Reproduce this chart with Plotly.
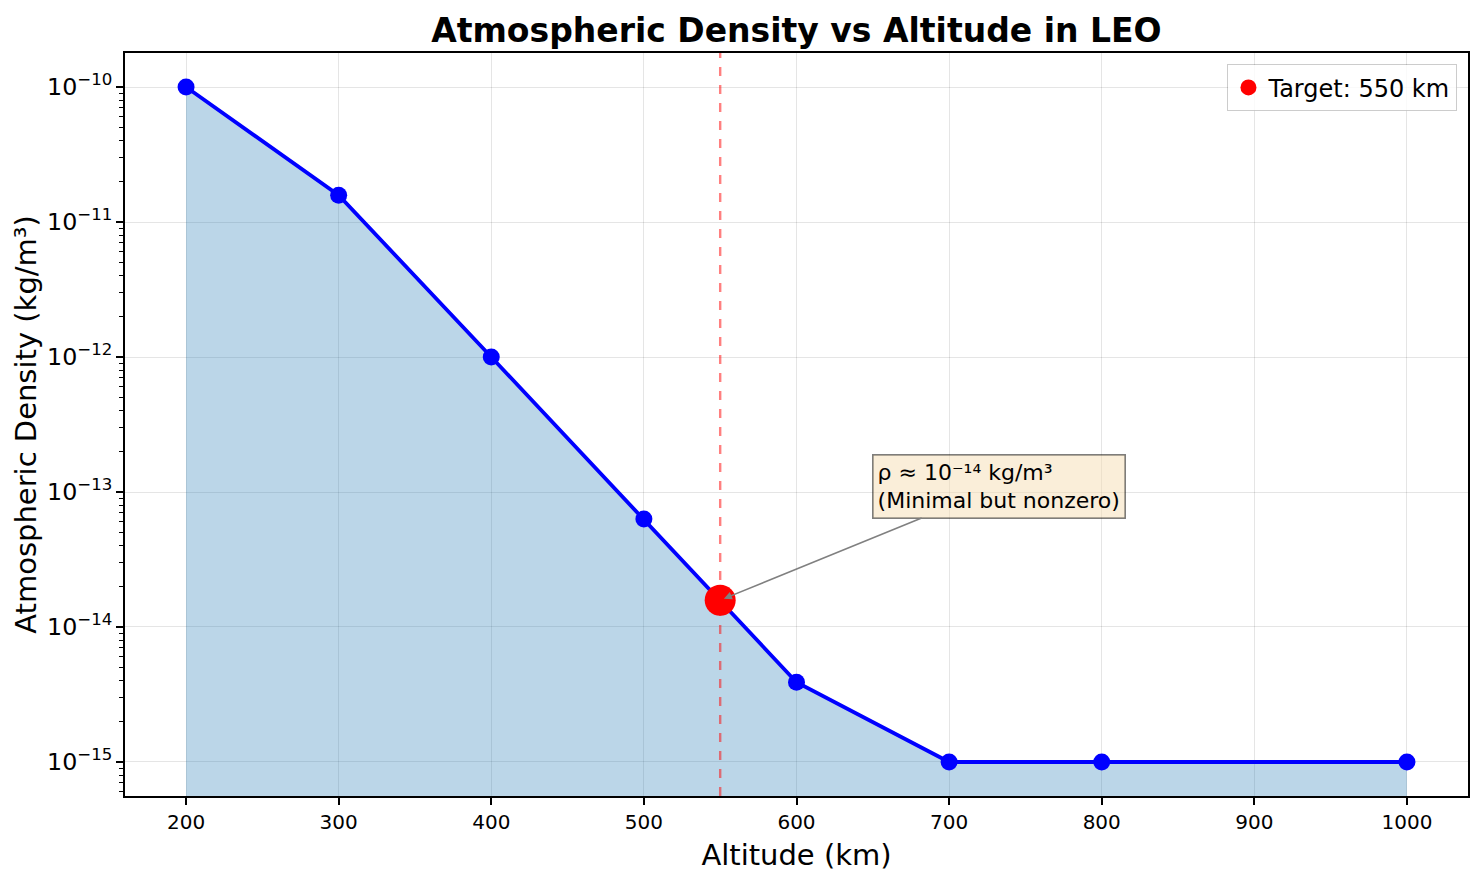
import plotly.graph_objects as go
import numpy as np

altitude_km = [200, 300, 400, 500, 550, 600, 700, 800, 1000]
density = [1e-10, 1.58e-11, 1e-12, 6.3e-14, 1.58e-14, 3.9e-15, 1e-15, 1e-15, 1e-15]
target_alt = 550
target_density = 1.58e-14

font = "DejaVu Sans"
fig = go.Figure()

fig.add_trace(go.Scatter(x=altitude_km, y=density, mode="lines", line=dict(width=0),
                         fill="tozeroy", fillcolor="rgba(31,119,180,0.3)",
                         showlegend=False, hoverinfo="skip"))
fig.add_trace(go.Scatter(x=altitude_km, y=density, mode="lines+markers",
                         line=dict(color="#0000FF", width=3.8),
                         marker=dict(color="#0000FF", size=17), showlegend=False))
fig.add_trace(go.Scatter(x=[target_alt], y=[target_density], mode="markers",
                         marker=dict(color="#FF0000", size=31), name="Target: 550 km"))

fig.add_shape(type="line", x0=target_alt, x1=target_alt, y0=0, y1=1, xref="x", yref="paper",
              line=dict(color="rgba(255,0,0,0.5)", width=2.4, dash="dash"))

fig.add_annotation(x=target_alt, y=np.log10(target_density), xref="x", yref="y",
                   ax=733, ay=np.log10(1.1e-13), axref="x", ayref="y",
                   text="ρ ≈ 10⁻¹⁴ kg/m³<br>(Minimal but nonzero)", align="left",
                   font=dict(family=font, size=22, color="black"),
                   bgcolor="rgba(245,222,179,0.5)", bordercolor="rgba(0,0,0,0.5)",
                   borderwidth=1.6, borderpad=4,
                   showarrow=True, arrowhead=2, arrowsize=1, arrowwidth=1.6,
                   arrowcolor="gray", standoff=4)

axis_common = dict(showline=True, linecolor="black", linewidth=1.6, mirror=True,
                   ticks="outside", ticklen=7, tickwidth=1.6, tickcolor="black",
                   showgrid=True, gridcolor="rgba(0,0,0,0.1)", gridwidth=1.2,
                   zeroline=False)

fig.update_xaxes(range=[160, 1040], tickvals=[200, 300, 400, 500, 600, 700, 800, 900, 1000],
                 tickfont=dict(family=font, size=20, color="black"),
                 title=dict(text="Altitude (km)", font=dict(family=font, size=29, color="black"), standoff=12),
                 **axis_common)
fig.update_yaxes(type="log", range=[-15.252, -9.748], dtick=1, exponentformat="power",
                 showexponent="all",
                 tickfont=dict(family=font, size=19, color="black"),
                 minor=dict(ticks="outside", ticklen=4, tickwidth=1.2, tickcolor="black", showgrid=False),
                 title=dict(text="Atmospheric Density (kg/m³)", font=dict(family=font, size=29, color="black"), standoff=2),
                 **axis_common)

fig.update_layout(
    width=1483, height=882,
    margin=dict(l=125, r=15, t=53, b=86),
    plot_bgcolor="white", paper_bgcolor="white",
    title=dict(text="<b>Atmospheric Density vs Altitude in LEO</b>", x=0.537, xanchor="center",
               y=0.966, yanchor="middle", font=dict(family=font, size=33, color="black")),
    legend=dict(x=0.992, y=0.985, xanchor="right", yanchor="top",
                bgcolor="rgba(255,255,255,0.8)", bordercolor="rgba(0,0,0,0.2)", borderwidth=1.2,
                font=dict(family=font, size=24, color="black")),
    font=dict(family=font),
)

fig.write_html("out.html")
